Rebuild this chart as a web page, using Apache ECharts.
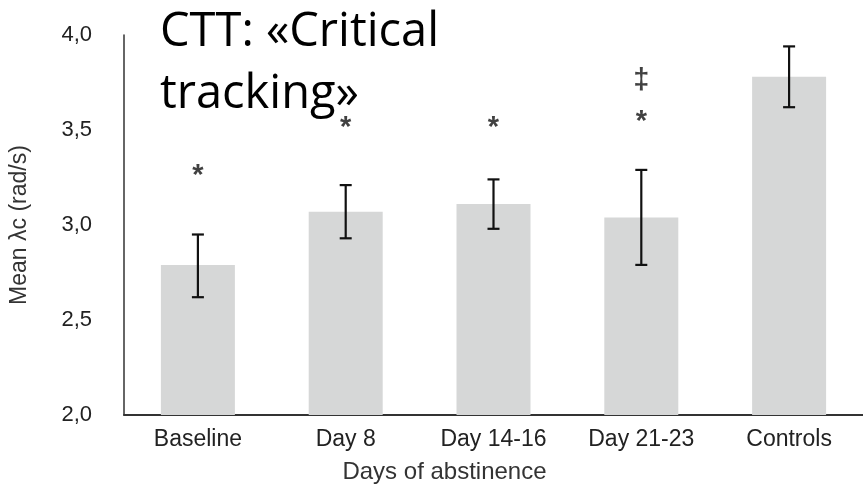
<!DOCTYPE html>
<html>
<head>
<meta charset="utf-8">
<script src="https://cdn.jsdelivr.net/npm/echarts@6/dist/echarts.min.js"></script>
<style>
  html, body { margin: 0; padding: 0; background: #fff; }
  #chart { width: 863px; height: 491px; }
</style>
</head>
<body>
<div id="chart"></div>
<script>
// Mean critical tracking threshold (λc) per phase of abstinence
const categories = ['Baseline', 'Day 8', 'Day 14-16', 'Day 21-23', 'Controls'];
const meanValues = [2.79, 3.07, 3.11, 3.04, 3.78];
const errLow = [2.62, 2.93, 2.98, 2.79, 3.62];
const errHigh = [2.95, 3.21, 3.24, 3.29, 3.94];
const yTicks = ['2,0', '2,5', '3,0', '3,5', '4,0'];

// Significance markers: [category index, y position, symbol]
const markers = [
  [0, 3.26, '*'],
  [1, 3.51, '*'],
  [2, 3.51, '*'],
  [3, 3.54, '*'],
  [3, 3.76, '‡']
];

const chart = echarts.init(document.getElementById('chart'));
const textFont = '"Liberation Sans", Arial, sans-serif';

chart.setOption({
  animation: false,
  title: {
    text: 'CTT: «Critical\ntracking»',
    left: 155,
    top: -3,
    textStyle: {
      fontFamily: '"Open Sans", "Noto Sans", sans-serif',
      fontSize: 47,
      fontWeight: 'normal',
      color: '#000',
      lineHeight: 62
    }
  },
  grid: { left: 123, top: 35, width: 746, bottom: 76, containLabel: false },
  xAxis: {
    type: 'category',
    data: categories,
    name: 'Days of abstinence',
    nameLocation: 'middle',
    nameGap: 45,
    nameTextStyle: {
      fontFamily: textFont,
      fontSize: 24,
      color: '#333',
      padding: [0, 98, 0, 0]
    },
    axisLine: { lineStyle: { color: '#333', width: 2 } },
    axisTick: { show: false },
    axisLabel: { fontFamily: textFont, fontSize: 23, color: '#222', margin: 13 }
  },
  yAxis: {
    type: 'value',
    min: 2,
    max: 4,
    interval: 0.5,
    name: 'Mean λc (rad/s)',
    nameLocation: 'middle',
    nameGap: 93,
    nameTextStyle: { fontFamily: textFont, fontSize: 23, color: '#333' },
    axisLine: { show: true, lineStyle: { color: '#333', width: 1.5 } },
    axisTick: { show: false },
    splitLine: { show: false },
    axisLabel: {
      fontFamily: textFont,
      fontSize: 22,
      color: '#222',
      margin: 32,
      formatter: function (v) {
        return yTicks[Math.round((v - 2) / 0.5)];
      }
    }
  },
  series: [
    {
      type: 'bar',
      data: meanValues,
      barWidth: 74,
      itemStyle: { color: '#d6d7d7' },
      z: 2
    },
    {
      type: 'custom',
      data: categories.map((c, i) => [i, errLow[i], errHigh[i]]),
      z: 3,
      renderItem: function (params, api) {
        const lo = api.coord([api.value(0), api.value(1)]);
        const hi = api.coord([api.value(0), api.value(2)]);
        const hw = 6;
        const style = { stroke: '#111', lineWidth: 2.2, fill: null };
        return {
          type: 'group',
          children: [
            { type: 'line', shape: { x1: lo[0], y1: lo[1], x2: hi[0], y2: hi[1] }, style: style },
            { type: 'line', shape: { x1: lo[0] - hw, y1: lo[1], x2: lo[0] + hw, y2: lo[1] }, style: style },
            { type: 'line', shape: { x1: hi[0] - hw, y1: hi[1], x2: hi[0] + hw, y2: hi[1] }, style: style }
          ]
        };
      }
    },
    {
      type: 'scatter',
      data: markers.map(m => ({ value: [m[0], m[1]], sym: m[2] })),
      symbolSize: 0,
      z: 4,
      label: {
        show: true,
        position: 'inside',
        fontFamily: textFont,
        fontSize: 29,
        fontWeight: 'bold',
        color: '#111',
        formatter: p => p.data.sym
      }
    }
  ]
});
</script>
</body>
</html>
